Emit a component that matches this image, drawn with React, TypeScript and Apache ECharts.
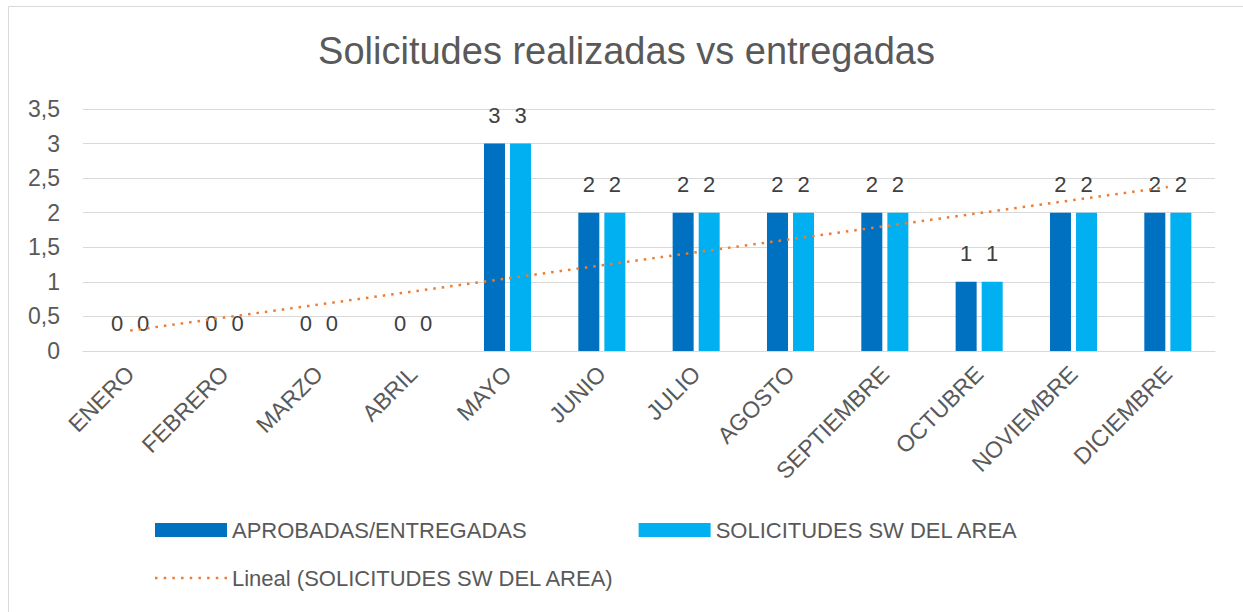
import React, { useEffect, useRef } from "react";
import * as echarts from "echarts";

const months = [
  "ENERO", "FEBRERO", "MARZO", "ABRIL", "MAYO", "JUNIO",
  "JULIO", "AGOSTO", "SEPTIEMBRE", "OCTUBRE", "NOVIEMBRE", "DICIEMBRE",
];
const aprobadas = [0, 0, 0, 0, 3, 2, 2, 2, 2, 1, 2, 2];
const solicitudes = [0, 0, 0, 0, 3, 2, 2, 2, 2, 1, 2, 2];
const yMin = 0;
const yMax = 3.5;
const yStep = 0.5;

const titleText = "Solicitudes realizadas vs entregadas";
const nameA = "APROBADAS/ENTREGADAS";
const nameB = "SOLICITUDES SW DEL AREA";
const nameTrend = "Lineal (SOLICITUDES SW DEL AREA)";

// least-squares linear trendline (as Excel "Lineal")
function linearTrend(vals: number[]): number[] {
  const n = vals.length;
  const xs = vals.map((_, i) => i + 1);
  const mx = xs.reduce((a, b) => a + b, 0) / n;
  const my = vals.reduce((a, b) => a + b, 0) / n;
  let sxy = 0;
  let sxx = 0;
  for (let i = 0; i < n; i++) {
    sxy += (xs[i] - mx) * (vals[i] - my);
    sxx += (xs[i] - mx) * (xs[i] - mx);
  }
  const slope = sxy / sxx;
  const icpt = my - slope * mx;
  return xs.map((x) => +(icpt + slope * x).toFixed(4));
}

// dotted legend icon (9 small dots)
function dottedIcon(): string {
  let d = "path://";
  for (let i = 0; i < 9; i++) {
    const x = i * 8.7;
    d += `M${x},0h2.5v2.5h-2.5Z`;
  }
  return d;
}

const FONT = "Liberation Sans, Arial, sans-serif";
const TXT = "#595959";

export default function App() {
  const ref = useRef<HTMLDivElement>(null);
  useEffect(() => {
    if (!ref.current) return;
    const chart = echarts.init(ref.current, null, { renderer: "svg" });
    const trend = linearTrend(solicitudes);
    chart.setOption({
      animation: false,
      backgroundColor: "#ffffff",
      textStyle: { fontFamily: FONT },
      title: {
        text: titleText,
        left: "center",
        top: 27,
        textStyle: { fontFamily: FONT, fontSize: 38, fontWeight: "normal", color: TXT },
      },
      graphic: [
        {
          type: "rect",
          shape: { x: 8.5, y: 6.5, width: 1400, height: 700 },
          style: { fill: "none", stroke: "#d9d9d9", lineWidth: 1 },
          silent: true,
        },
      ],
      grid: { left: 83, top: 109, width: 1132, height: 242, containLabel: false },
      legend: [
        {
          data: [nameA, nameB],
          left: 155,
          top: 519,
          padding: 0,
          itemWidth: 72,
          itemHeight: 14,
          itemGap: 112,
          selectedMode: false,
          icon: "rect",
          textStyle: { fontFamily: FONT, fontSize: 22, color: TXT },
        },
        {
          data: [{ name: nameTrend, icon: dottedIcon() }],
          left: 155,
          top: 567,
          padding: 0,
          itemWidth: 72,
          itemHeight: 2.5,
          selectedMode: false,
          textStyle: { fontFamily: FONT, fontSize: 22, color: TXT },
        },
      ],
      xAxis: {
        type: "category",
        data: months,
        axisLine: { show: true, lineStyle: { color: "#d9d9d9", width: 1 } },
        axisTick: { show: false },
        axisLabel: {
          rotate: 45,
          interval: 0,
          margin: 19,
          fontFamily: FONT,
          fontSize: 23,
          color: TXT,
        },
      },
      yAxis: {
        type: "value",
        min: yMin,
        max: yMax,
        interval: yStep,
        axisLine: { show: false },
        axisTick: { show: false },
        splitLine: { lineStyle: { color: "#d9d9d9", width: 1 } },
        axisLabel: {
          margin: 23,
          fontFamily: FONT,
          fontSize: 23,
          color: TXT,
          formatter: (v: number) => String(v).replace(".", ","),
        },
      },
      series: [
        {
          name: nameA,
          type: "bar",
          data: aprobadas,
          barWidth: 21,
          barGap: "24%",
          itemStyle: { color: "#0070C0" },
          label: {
            show: true,
            position: "top",
            distance: 17,
            fontFamily: FONT,
            fontSize: 22,
            color: "#404040",
          },
        },
        {
          name: nameB,
          type: "bar",
          data: solicitudes,
          barWidth: 21,
          itemStyle: { color: "#00B0F0" },
          label: {
            show: true,
            position: "top",
            distance: 17,
            fontFamily: FONT,
            fontSize: 22,
            color: "#404040",
          },
        },
        {
          name: nameTrend,
          type: "line",
          data: trend,
          symbol: "none",
          z: 5,
          itemStyle: { color: "#ED7D31" },
          lineStyle: { color: "#ED7D31", width: 2.5, type: [2.5, 6] },
        },
      ],
    });
    return () => chart.dispose();
  }, []);
  return (
    <div style={{ position: "fixed", left: 0, top: 0, width: 1243, height: 612, overflow: "hidden" }}>
      <div ref={ref} style={{ position: "absolute", left: 0, top: 0, width: 1253, height: 612 }} />
    </div>
  );
}
